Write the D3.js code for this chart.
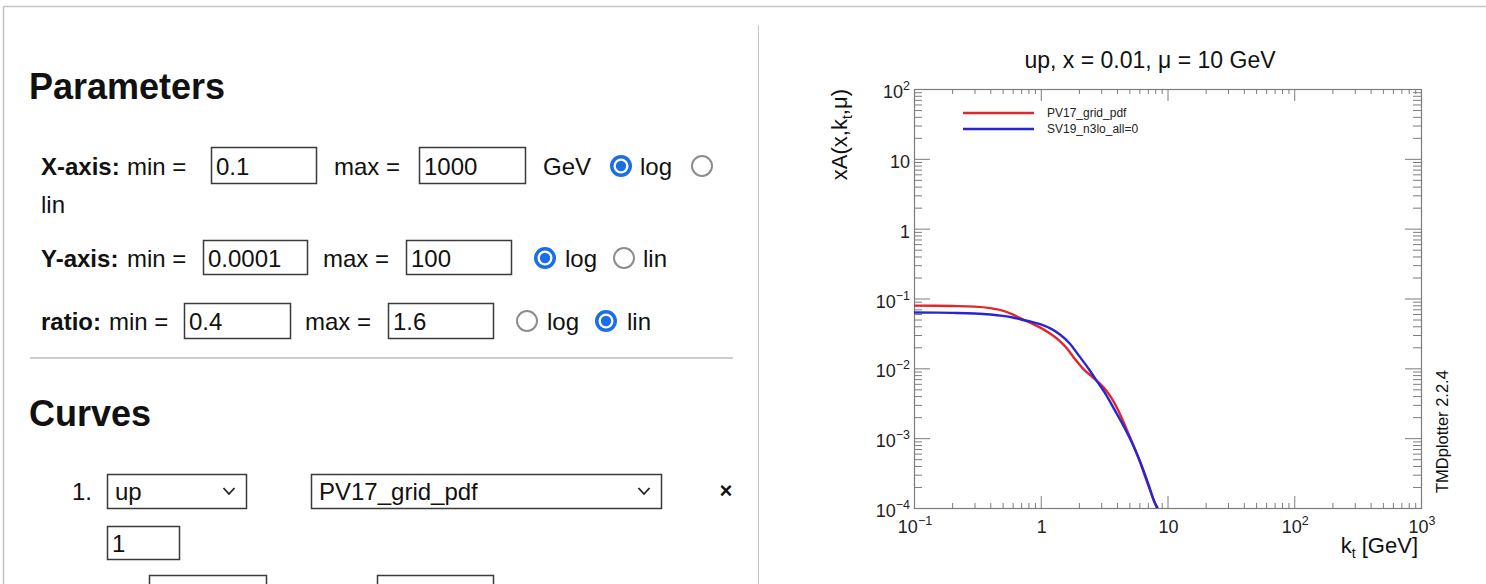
<!DOCTYPE html>
<html><head><meta charset="utf-8">
<script src="https://cdn.jsdelivr.net/npm/d3@7"></script>
<style>
body{margin:0;background:#fff;}
svg{display:block;font-family:"Liberation Sans",Arial,Helvetica,sans-serif;}
</style></head>
<body><svg id="c" width="1486" height="584"></svg>
<script>
// ---------- chart data ----------
const ktPV17 = [0.1,0.15,0.2,0.3,0.4,0.5,0.6,0.7,0.85,1.0,1.2,1.4,1.6,1.8,2.0,2.2,2.5,2.8,3.2,3.6,4.0,4.5,5.0,5.5,6.0,7.0,8.0,8.35];
const xaPV17 = [0.079,0.0787,0.0780,0.0765,0.0728,0.0670,0.0592,0.0515,0.0440,0.0380,0.0310,0.0250,0.0195,0.0147,0.0116,0.0095,0.0078,0.0065,0.0051,0.0038,0.0027,0.0017,0.00108,0.00072,0.00048,0.00022,0.000115,0.0001];
const ktSV19 = [0.1,0.15,0.2,0.3,0.4,0.5,0.6,0.7,0.85,1.0,1.2,1.4,1.7,2.0,2.4,2.8,3.2,3.6,4.0,4.5,5.0,5.5,6.0,7.0,8.0,8.35];
const xaSV19 = [0.0630,0.0627,0.0622,0.0610,0.0590,0.0565,0.0535,0.0500,0.0462,0.0425,0.0370,0.0310,0.0225,0.0152,0.0097,0.0064,0.0045,0.0031,0.0022,0.0015,0.00103,0.00071,0.00049,0.00023,0.000115,0.0001];
const seriesNames = ["PV17_grid_pdf","SV19_n3lo_all=0"];
const xDecades = [0.1,1,10,100,1000];
const xTickLabels = ["10^−1","1","10","10^2","10^3"];
const yDecades = [1e-4,1e-3,1e-2,1e-1,1,10,100];
const yTickLabels = ["10^−4","10^−3","10^−2","10^−1","1","10","10^2"];
const chartTitle = "up, x = 0.01, μ = 10 GeV";

const svg = d3.select("#c");

// ---------- page frame ----------
svg.append("line").attr("x1",3).attr("x2",1486).attr("y1",6.5).attr("y2",6.5).attr("stroke","#c4c4c4").attr("stroke-width",1.5);
svg.append("line").attr("x1",3.5).attr("x2",3.5).attr("y1",6).attr("y2",584).attr("stroke","#c4c4c4").attr("stroke-width",1.5);
svg.append("line").attr("x1",758.5).attr("x2",758.5).attr("y1",25).attr("y2",584).attr("stroke","#c8c8c8").attr("stroke-width",1);

// ---------- left panel (form) ----------
const L = svg.append("g");
function txt(x,yb,s,opt={}){
  return L.append("text").attr("x",x).attr("y",yb).text(s)
    .attr("font-size",opt.size||24).attr("font-weight",opt.bold?"bold":"normal")
    .attr("fill","#111").attr("text-anchor",opt.anchor||"start");
}
function inputBox(x,y,w,h,val,tb){
  L.append("rect").attr("x",x+0.5).attr("y",y+0.5).attr("width",w).attr("height",h)
    .attr("fill","#fff").attr("stroke","#3a3a3a").attr("stroke-width",1.5);
  if(val!==undefined) txt(x+5,tb,val);
}
function radio(cx,cy,on){
  if(on){
    L.append("circle").attr("cx",cx).attr("cy",cy).attr("r",11).attr("fill","#1a6fe8");
    L.append("circle").attr("cx",cx).attr("cy",cy).attr("r",7.5).attr("fill","#fff");
    L.append("circle").attr("cx",cx).attr("cy",cy).attr("r",5.2).attr("fill","#1a6fe8");
  } else {
    L.append("circle").attr("cx",cx).attr("cy",cy).attr("r",10).attr("fill","#fff")
      .attr("stroke","#8d8d8d").attr("stroke-width",2);
  }
}
function selectBox(x,y,w,h,val,chevX){
  L.append("rect").attr("x",x+0.5).attr("y",y+0.5).attr("width",w).attr("height",h)
    .attr("fill","#fff").attr("stroke","#3a3a3a").attr("stroke-width",1.5);
  txt(x+8,y+26,val);
  L.append("path").attr("d",`M${chevX-5.5},${y+14} L${chevX},${y+20} L${chevX+5.5},${y+14}`)
    .attr("fill","none").attr("stroke","#222").attr("stroke-width",1.8);
}

txt(29,99,"Parameters",{size:36,bold:true});
// X-axis row
txt(41,175,"X-axis:",{bold:true}); txt(127,175,"min =");
inputBox(211,147,105,36,"0.1",175);
txt(334,175,"max ="); inputBox(419,147,106,36,"1000",175);
txt(543,175,"GeV"); radio(621,166,true); txt(640,175,"log"); radio(702,166,false);
txt(41,213,"lin");
// Y-axis row
txt(41,267,"Y-axis:",{bold:true}); txt(127,267,"min =");
inputBox(203,240,104,34,"0.0001",267);
txt(323,267,"max ="); inputBox(406,240,105,34,"100",267);
radio(545,258,true); txt(565,267,"log"); radio(624,258,false); txt(643,267,"lin");
// ratio row
txt(41,330,"ratio:",{bold:true}); txt(109,330,"min =");
inputBox(184,303,106,35,"0.4",330);
txt(305,330,"max ="); inputBox(388,303,105,35,"1.6",330);
radio(527,321,false); txt(547,330,"log"); radio(606,321,true); txt(627,330,"lin");
// separator
L.append("line").attr("x1",30).attr("x2",733).attr("y1",358).attr("y2",358).attr("stroke","#bdbdbd").attr("stroke-width",1.5);
txt(29,426,"Curves",{size:36,bold:true});
txt(72,500,"1.");
selectBox(107,474,139,34,"up",229);
selectBox(311,474,350,34,"PV17_grid_pdf",644);
txt(726,498,"×",{size:22,bold:true,anchor:"middle"});
inputBox(107,526,72,33,"1",552);
inputBox(149,575,117,36);
inputBox(377,575,116,36);

// ---------- chart ----------
const X0=914, X1=1421, Y0=89, Y1=508;
const x = d3.scaleLog().domain([0.1,1000]).range([X0,X1]);
const y = d3.scaleLog().domain([1e-4,100]).range([Y1,Y0]);
const axisColor = "#7c7c7c";
function minorsOf(dec){const m=[];dec.slice(0,-1).forEach(d=>{for(let k=2;k<=9;k++)m.push(d*k);});return m;}
function styleAxis(g){
  g.select(".domain").remove();
  g.selectAll("line").attr("stroke",axisColor).attr("stroke-width",1);
  g.selectAll("text").remove();
}
const C = svg.append("g");
const blank = () => "";
// bottom
C.append("g").attr("transform",`translate(0,${Y1})`).call(d3.axisBottom(x).tickValues(xDecades).tickSize(-12).tickFormat(blank)).call(styleAxis);
C.append("g").attr("transform",`translate(0,${Y1})`).call(d3.axisBottom(x).tickValues(minorsOf(xDecades)).tickSize(-5).tickFormat(blank)).call(styleAxis);
// top
C.append("g").attr("transform",`translate(0,${Y0})`).call(d3.axisTop(x).tickValues(xDecades).tickSize(-12).tickFormat(blank)).call(styleAxis);
C.append("g").attr("transform",`translate(0,${Y0})`).call(d3.axisTop(x).tickValues(minorsOf(xDecades)).tickSize(-5).tickFormat(blank)).call(styleAxis);
// left
C.append("g").attr("transform",`translate(${X0},0)`).call(d3.axisLeft(y).tickValues(yDecades).tickSize(-16).tickFormat(blank)).call(styleAxis);
C.append("g").attr("transform",`translate(${X0},0)`).call(d3.axisLeft(y).tickValues(minorsOf(yDecades)).tickSize(-8).tickFormat(blank)).call(styleAxis);
// right
C.append("g").attr("transform",`translate(${X1},0)`).call(d3.axisRight(y).tickValues(yDecades).tickSize(-16).tickFormat(blank)).call(styleAxis);
C.append("g").attr("transform",`translate(${X1},0)`).call(d3.axisRight(y).tickValues(minorsOf(yDecades)).tickSize(-8).tickFormat(blank)).call(styleAxis);
// frame
C.append("rect").attr("x",X0+0.5).attr("y",Y0+0.5).attr("width",X1-X0).attr("height",Y1-Y0)
  .attr("fill","none").attr("stroke",axisColor).attr("stroke-width",1.2);

function powLabel(sel, s){
  const parts = s.split("^");
  sel.text(parts[0]);
  if(parts[1]) sel.append("tspan").attr("dy",-8).attr("font-size",12.5).text(parts[1]);
}
// x tick labels
xDecades.forEach((d,i)=>{
  C.append("text").attr("x",x(d)+1).attr("y",533).attr("font-size",18).attr("fill","#222")
    .attr("text-anchor","middle").call(powLabel,xTickLabels[i]);
});
// y tick labels
yDecades.forEach((d,i)=>{
  C.append("text").attr("x",910).attr("y",y(d)+9).attr("font-size",18).attr("fill","#222")
    .attr("text-anchor","end").call(powLabel,yTickLabels[i]);
});

// title
C.append("text").attr("x",1150).attr("y",68).attr("text-anchor","middle").attr("font-size",23).attr("fill","#111").text(chartTitle);
// axis titles
const xt = C.append("text").attr("x",1418).attr("y",553).attr("text-anchor","end").attr("font-size",22).attr("fill","#111");
xt.append("tspan").text("k");
xt.append("tspan").attr("font-size",14).attr("dy",5).text("t");
xt.append("tspan").attr("dy",-5).text(" [GeV]");
const yt = C.append("text").attr("transform","translate(847,89) rotate(-90)").attr("text-anchor","end").attr("font-size",22).attr("fill","#111");
yt.append("tspan").text("xA(x,k");
yt.append("tspan").attr("font-size",14).attr("dy",5).text("t");
yt.append("tspan").attr("dy",-5).text(",μ)");
C.append("text").attr("transform","translate(1448,493) rotate(-90)").attr("font-size",16.5).attr("fill","#111").text("TMDplotter 2.2.4");

// curves
svg.append("clipPath").attr("id","plotclip").append("rect").attr("x",X0).attr("y",Y0).attr("width",X1-X0).attr("height",Y1-Y0+1);
const line = d3.line().x(d=>x(d[0])).y(d=>y(d[1])).curve(d3.curveMonotoneX);
const colors = ["#e3262b","#2626d4"];
const seriesData = [d3.zip(ktPV17,xaPV17), d3.zip(ktSV19,xaSV19)];
seriesData.forEach((s,i)=>{
  C.append("path").attr("d",line(s)).attr("fill","none").attr("stroke",colors[i])
    .attr("stroke-width",2.4).attr("clip-path","url(#plotclip)");
});
// legend
seriesNames.forEach((n,i)=>{
  const ly = 113 + i*16;
  C.append("line").attr("x1",963).attr("x2",1034).attr("y1",ly).attr("y2",ly).attr("stroke",colors[i]).attr("stroke-width",2.5);
  C.append("text").attr("x",1047).attr("y",ly+4).attr("font-size",12).attr("fill","#222").text(n);
});
</script>
</body></html>
